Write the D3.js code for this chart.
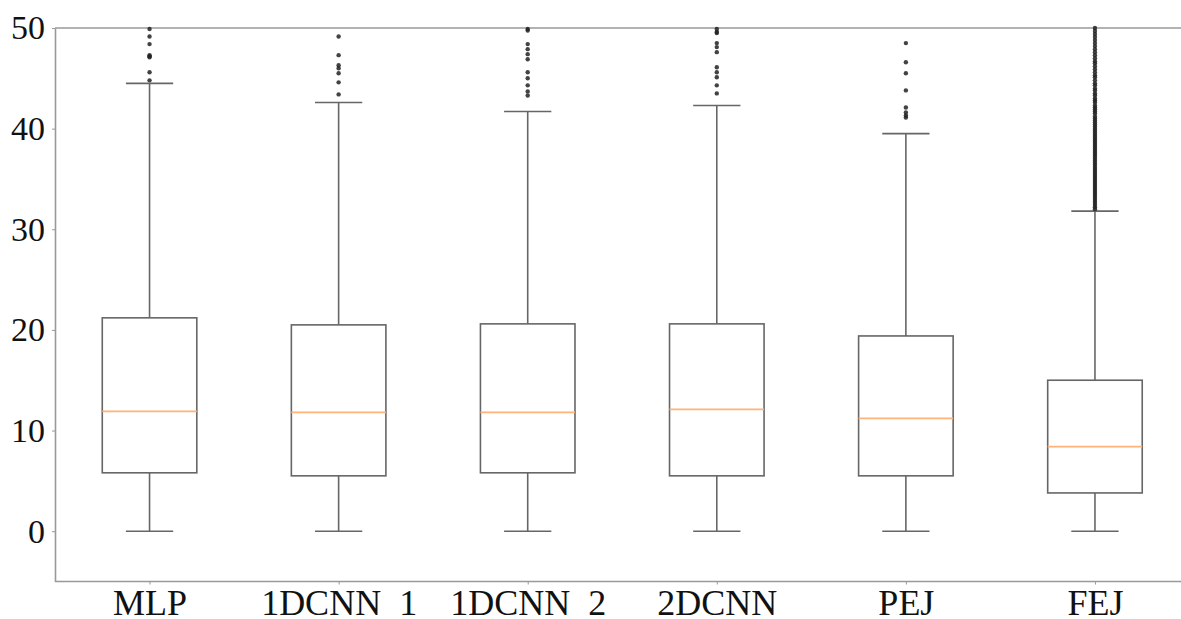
<!DOCTYPE html>
<html><head><meta charset="utf-8">
<script src="https://cdn.jsdelivr.net/npm/d3@7"></script>
<style>html,body{margin:0;padding:0;background:#fff;}svg{display:block;}</style>
</head><body>
<svg id="chart" width="1181" height="619"></svg>
<script>
const categories = ["MLP", "1DCNN  1", "1DCNN  2", "2DCNN", "PEJ", "FEJ"];
const whiskerLow = [0, 0, 0, 0, 0, 0];
const q1 = [5.8, 5.5, 5.8, 5.5, 5.5, 3.8];
const median = [11.9, 11.8, 11.8, 12.1, 11.2, 8.4];
const q3 = [21.2, 20.5, 20.6, 20.6, 19.4, 15.0];
const whiskerHigh = [44.5, 42.6, 41.7, 42.3, 39.5, 31.8];
const outliers = [
  [44.8, 45.6, 47.1, 47.2, 47.3, 48.4, 49.15, 49.9],
  [43.4, 44.6, 45.5, 46.0, 46.3, 47.3, 49.15],
  [43.3, 43.7, 44.3, 45.0, 45.6, 46.9, 47.4, 47.9, 48.4, 49.75, 49.9],
  [43.5, 44.3, 45.1, 45.6, 46.1, 47.6, 48.1, 48.5, 49.5, 49.6, 49.9],
  [41.1, 41.3, 41.6, 42.1, 43.8, 45.5, 46.6, 48.5],
  [32.0, 32.2, 32.4, 32.6, 32.8, 33.0, 33.2, 33.4, 33.6, 33.8, 34.0, 34.2, 34.4, 34.6, 34.8,
   35.0, 35.2, 35.4, 35.6, 35.8, 36.0, 36.2, 36.4, 36.6, 36.8, 37.0, 37.2, 37.4, 37.6, 37.8,
   38.0, 38.2, 38.4, 38.6, 38.8, 39.0, 39.2, 39.4, 39.6, 39.8, 40.0, 40.2, 40.4, 40.6, 40.8,
   41.0, 41.2, 41.5, 41.7, 41.9, 42.1, 42.3, 42.6, 42.8, 43.0, 43.3, 43.5, 43.8, 44.0, 44.3,
   44.5, 44.8, 45.1, 45.3, 45.6, 45.9, 46.2, 46.5, 46.7, 47.0, 47.3, 47.6, 47.9, 48.2, 48.5,
   48.8, 49.1, 49.4, 49.7, 50.0]
];
const yTicks = [0, 10, 20, 30, 40, 50];

(function () {
const svg = d3.select("#chart");
const mLeft = 55, mTop = 28, mBottom = 581.5;
const positions = categories.map((d, i) => i + 1);
const x = d3.scaleLinear().domain([0.5, 6.5]).range([mLeft, 1189.5]);
const y = d3.scaleLinear().domain([-5, 50]).range([mBottom, mTop]);

const font = "'Liberation Serif','Times New Roman',serif";

svg.append("line").attr("x1", mLeft).attr("x2", 1181).attr("y1", y(50)).attr("y2", y(50))
  .attr("stroke", "#999").attr("stroke-width", 1.6);
svg.append("line").attr("x1", mLeft).attr("x2", 1181).attr("y1", mBottom).attr("y2", mBottom)
  .attr("stroke", "#999").attr("stroke-width", 1.6);

const yAxis = svg.append("g").attr("transform", `translate(${mLeft},0)`)
  .call(d3.axisLeft(y).tickValues(yTicks).tickSize(3).tickPadding(7).tickSizeOuter(0));
yAxis.select(".domain").attr("stroke", "#999").attr("stroke-width", 1.6);
yAxis.selectAll(".tick line").attr("stroke", "#999");
yAxis.selectAll("text").attr("font-family", font).attr("font-size", 34).attr("fill", "#111");

const xAxis = svg.append("g").attr("transform", `translate(0,${mBottom})`)
  .call(d3.axisBottom(x).tickValues(positions).tickFormat((d, i) => categories[i])
    .tickSize(3).tickPadding(5).tickSizeOuter(0));
xAxis.select(".domain").remove();
xAxis.selectAll(".tick line").attr("stroke", "#999");
xAxis.selectAll("text").attr("font-family", font).attr("font-size", 36).attr("fill", "#111")
  .style("white-space", "pre");

const boxW = x(1.25) - x(1);
const capW = x(1.125) - x(1);
const stroke = "#666";

positions.forEach((p, i) => {
  const cx = x(p);
  const g = svg.append("g");
  g.append("line").attr("x1", cx).attr("x2", cx).attr("y1", y(whiskerLow[i])).attr("y2", y(q1[i]))
    .attr("stroke", stroke).attr("stroke-width", 1.6);
  g.append("line").attr("x1", cx).attr("x2", cx).attr("y1", y(q3[i])).attr("y2", y(whiskerHigh[i]))
    .attr("stroke", stroke).attr("stroke-width", 1.6);
  [whiskerLow[i], whiskerHigh[i]].forEach(v => {
    g.append("line").attr("x1", cx - capW).attr("x2", cx + capW).attr("y1", y(v)).attr("y2", y(v))
      .attr("stroke", stroke).attr("stroke-width", 1.6);
  });
  g.append("rect").attr("x", cx - boxW).attr("y", y(q3[i])).attr("width", 2 * boxW)
    .attr("height", y(q1[i]) - y(q3[i])).attr("fill", "none").attr("stroke", stroke).attr("stroke-width", 1.6);
  g.append("line").attr("x1", cx - boxW).attr("x2", cx + boxW).attr("y1", y(median[i])).attr("y2", y(median[i]))
    .attr("stroke", "#ffb27a").attr("stroke-width", 1.8);
  g.selectAll("circle").data(outliers[i]).enter().append("circle")
    .attr("cx", cx).attr("cy", d => y(d)).attr("r", 2.2)
    .attr("fill", "#222").attr("fill-opacity", 0.85);
});
})();
</script>
</body></html>
